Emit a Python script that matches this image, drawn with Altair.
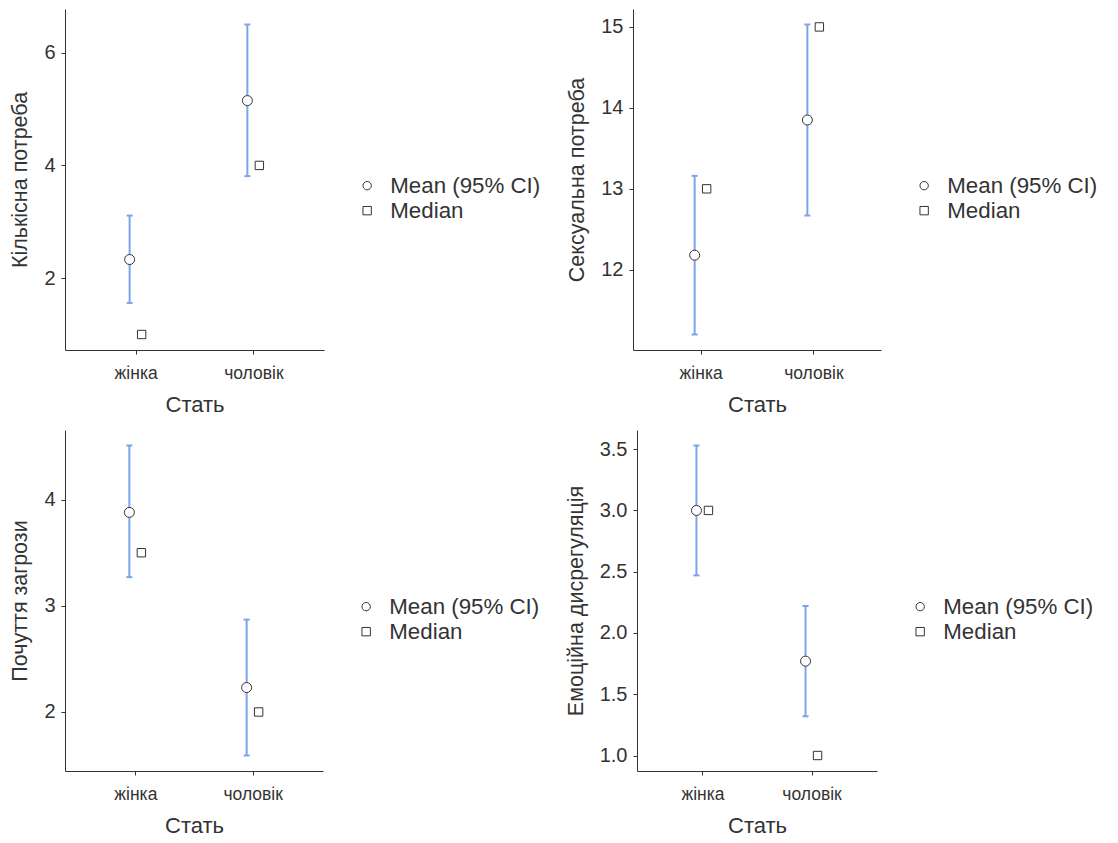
import altair as alt
import pandas as pd

groups = ["жінка", "чоловік"]
x_title = "Стать"
legend_labels = ["Mean (95% CI)", "Median"]

titles = ["Кількісна потреба", "Сексуальна потреба", "Почуття загрози", "Емоційна дисрегуляція"]

mean_kp = [2.33, 5.15]
lo_kp = [1.56, 3.81]
hi_kp = [3.11, 6.50]
med_kp = [1, 4]

mean_sp = [12.18, 13.85]
lo_sp = [11.20, 12.67]
hi_sp = [13.16, 15.03]
med_sp = [13, 15]

mean_pz = [3.88, 2.23]
lo_pz = [3.27, 1.59]
hi_pz = [4.51, 2.87]
med_pz = [3.5, 2]

mean_ed = [3.0, 1.77]
lo_ed = [2.47, 1.32]
hi_ed = [3.53, 2.22]
med_ed = [3, 1]

ticks_kp = [2, 4, 6]
ticks_sp = [12, 13, 14, 15]
ticks_pz = [2, 3, 4]
ticks_ed = [1.0, 1.5, 2.0, 2.5, 3.0, 3.5]

BLUE = "#7ba4ea"
DARK = "#333333"
FONT = "Liberation Sans"


def panel(title, mean, lo, hi, med, ticks, fmt, width, height=341):
    df = pd.DataFrame({"grp": groups, "lo": lo, "hi": hi})
    df_mean = pd.DataFrame({"grp": groups, "value": mean, "stat": legend_labels[0]})
    df_med = pd.DataFrame({"grp": groups, "value": med, "stat": legend_labels[1]})
    vals = list(lo) + list(hi) + list(med)
    lo_d, hi_d = min(vals), max(vals)
    ex = (hi_d - lo_d) * 0.05
    yscale = alt.Scale(domain=[lo_d - ex, hi_d + ex], nice=False, zero=False)
    xenc = alt.X("grp:N", sort=groups, title=x_title,
                 scale=alt.Scale(type="point", padding=0.6),
                 axis=alt.Axis(labelAngle=0, labelFontSize=17.5, titleFontSize=22,
                               tickSize=4, labelPadding=10.5, titlePadding=12))
    yaxis = alt.Axis(values=ticks, format=fmt, labelFontSize=20, titleFontSize=21.5,
                     tickSize=4, labelPadding=6, titlePadding=12, grid=False)
    shape_scale = alt.Scale(domain=legend_labels, range=["circle", "square"])
    color_scale = alt.Scale(domain=legend_labels, range=[DARK, DARK])
    legend = alt.Legend(title=None, orient="none", legendX=width + 32, legendY=height / 2 - 5,
                        labelFontSize=22.3, symbolSize=70, rowPadding=2, labelOffset=12,
                        labelColor=DARK, labelFont=FONT, symbolStrokeWidth=1)
    rule = alt.Chart(df).mark_rule(color=BLUE, strokeWidth=2, xOffset=-6).encode(
        x=xenc, y=alt.Y("lo:Q", scale=yscale, title=title, axis=yaxis), y2="hi:Q")
    cap_lo = alt.Chart(df).mark_tick(color=BLUE, size=6, thickness=2, xOffset=-6, opacity=1).encode(
        x=xenc, y=alt.Y("lo:Q", scale=yscale))
    cap_hi = alt.Chart(df).mark_tick(color=BLUE, size=6, thickness=2, xOffset=-6, opacity=1).encode(
        x=xenc, y=alt.Y("hi:Q", scale=yscale))
    pts = alt.Chart(df_mean).mark_point(filled=False, fill="white", strokeWidth=1, size=100,
                                        opacity=1, xOffset=-6).encode(
        x=xenc, y=alt.Y("value:Q", scale=yscale),
        shape=alt.Shape("stat:N", scale=shape_scale, legend=legend),
        color=alt.Color("stat:N", scale=color_scale, legend=legend))
    meds = alt.Chart(df_med).mark_point(filled=False, fill="white", strokeWidth=1, size=70,
                                       opacity=1, xOffset=6).encode(
        x=xenc, y=alt.Y("value:Q", scale=yscale),
        shape=alt.Shape("stat:N", scale=shape_scale, legend=legend),
        color=alt.Color("stat:N", scale=color_scale, legend=legend))
    return alt.layer(rule, cap_lo, cap_hi, pts, meds).properties(width=width, height=height)


p1 = panel(titles[0], mean_kp, lo_kp, hi_kp, med_kp, ticks_kp, "d", 259)
p2 = panel(titles[1], mean_sp, lo_sp, hi_sp, med_sp, ticks_sp, "d", 248)
p3 = panel(titles[2], mean_pz, lo_pz, hi_pz, med_pz, ticks_pz, "d", 258)
p4 = panel(titles[3], mean_ed, lo_ed, hi_ed, med_ed, ticks_ed, ".1f", 240)

row1 = alt.hconcat(p1, p2, spacing=25).resolve_scale(shape="independent", color="independent")
row2 = alt.hconcat(p3, p4, spacing=25).resolve_scale(shape="independent", color="independent")

chart = alt.vconcat(row1, row2, spacing=15).resolve_scale(
    shape="independent", color="independent").properties(
    padding={"left": 9, "top": 9, "right": 0, "bottom": 0}
).configure_view(stroke=None).configure_axis(
    domainColor=DARK, tickColor=DARK, labelColor=DARK, titleColor=DARK,
    labelFont=FONT, titleFont=FONT, titleFontWeight="normal", domainWidth=1
).configure_legend(labelFont=FONT)

chart.save("out.html", embed_options={"renderer": "svg", "actions": False})
